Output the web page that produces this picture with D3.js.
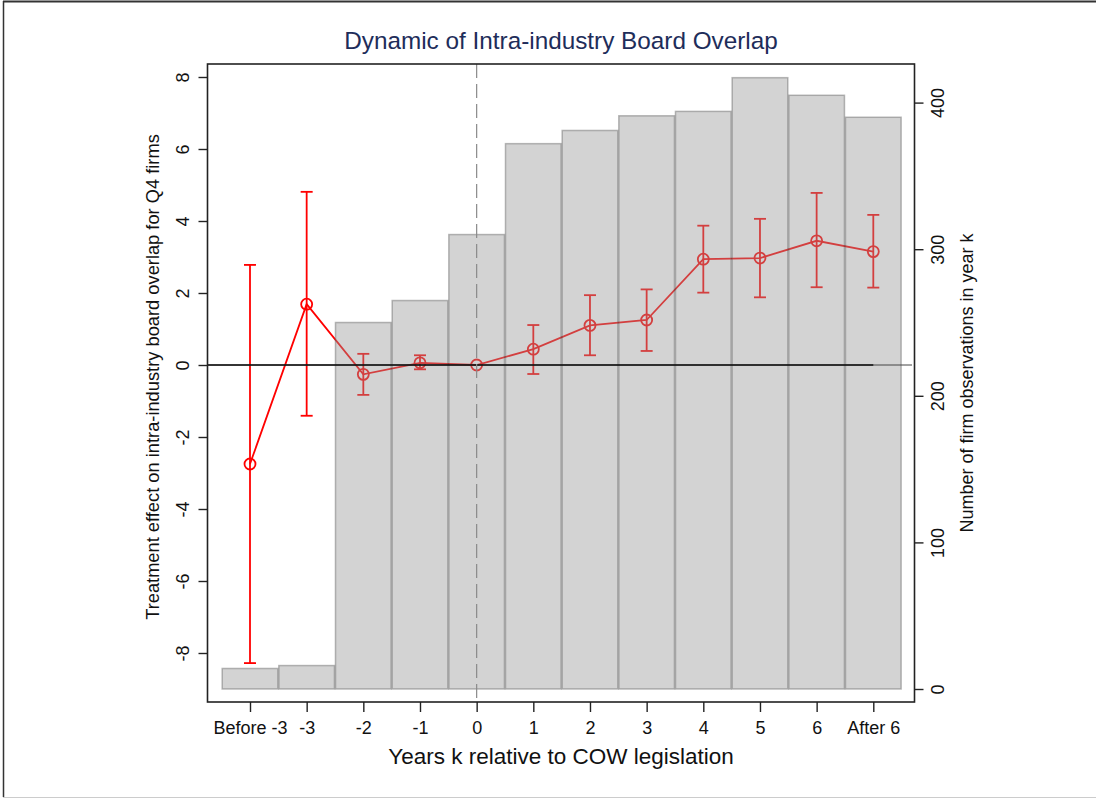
<!DOCTYPE html>
<html>
<head>
<meta charset="utf-8">
<script src="https://cdn.jsdelivr.net/npm/d3@7"></script>
<style>
body{margin:0;background:#fff;}
text{font-family:"Liberation Sans", Arial, sans-serif;}
</style>
</head>
<body>
<svg id="chart" width="1096" height="799"></svg>
<script>
var years = ["Before -3","-3","-2","-1","0","1","2","3","4","5","6","After 6"]
var firmCounts = [14, 16, 250, 265, 310, 372, 381, 391, 394, 417, 405, 390]
var effect = [-2.75, 1.69, -0.26, 0.06, 0, 0.44, 1.10, 1.25, 2.94, 2.97, 3.45, 3.15]
var ciLow = [-8.28, -1.41, -0.83, -0.12, null, -0.25, 0.27, 0.39, 2.01, 1.88, 2.16, 2.15]
var ciHigh = [2.78, 4.81, 0.31, 0.27, null, 1.11, 1.94, 2.10, 3.87, 4.06, 4.78, 4.17]
var leftTicks = [-8,-6,-4,-2,0,2,4,6,8]
var rightTicks = [0,100,200,300,400]

var plot = {left:207.5, right:914.5, top:64, bottom:702}

var svg = d3.select("#chart")

// page frame
svg.append("line").attr("x1",3).attr("x2",1096).attr("y1",1.5).attr("y2",1.5).style("stroke","#333").style("stroke-width",2)
svg.append("line").attr("x1",3.5).attr("x2",3.5).attr("y1",1).attr("y2",797).style("stroke","#333").style("stroke-width",1.5)
svg.append("line").attr("x1",3).attr("x2",1096).attr("y1",797.5).attr("y2",797.5).style("stroke","#ccc").style("stroke-width",1)

var x = d3.scalePoint()
    .domain(years)
    .range([250, 873.3])
var step = x.step()

var y = d3.scaleLinear()
    .domain([-8, 8])
    .range([653, 77])

var y2 = d3.scaleLinear()
    .domain([0, 400])
    .range([689, 102.6])

var red = "#ff0000"

// error bars (drawn under the translucent bars)
var ci = years.map(function(d,i){return {k:d, lo:ciLow[i], hi:ciHigh[i]}}).filter(function(d){return d.lo != null})
var cap = 6
var g = svg.append("g").style("stroke",red).style("stroke-width",1.8).style("fill","none")
g.selectAll("line.ci").data(ci).enter().append("line")
    .attr("class","ci")
    .attr("x1",function(d){return x(d.k)}).attr("x2",function(d){return x(d.k)})
    .attr("y1",function(d){return y(d.lo)}).attr("y2",function(d){return y(d.hi)})
g.selectAll("line.capHi").data(ci).enter().append("line")
    .attr("x1",function(d){return x(d.k)-cap}).attr("x2",function(d){return x(d.k)+cap})
    .attr("y1",function(d){return y(d.hi)}).attr("y2",function(d){return y(d.hi)})
g.selectAll("line.capLo").data(ci).enter().append("line")
    .attr("x1",function(d){return x(d.k)-cap}).attr("x2",function(d){return x(d.k)+cap})
    .attr("y1",function(d){return y(d.lo)}).attr("y2",function(d){return y(d.lo)})

var line = d3.line()
    .x(function(d,i){return x(years[i])})
    .y(function(d){return y(d)})
g.append("path").attr("d", line(effect))

g.selectAll("circle").data(effect).enter().append("circle")
    .attr("cx",function(d,i){return x(years[i])})
    .attr("cy",function(d){return y(d)})
    .attr("r",5.5)

// observation counts, translucent grey on top
svg.append("g").selectAll("rect").data(firmCounts).enter().append("rect")
    .attr("x",function(d,i){return x(years[i]) - step/2 + 0.5})
    .attr("width", step - 1)
    .attr("y",function(d){return y2(d)})
    .attr("height",function(d){return y2(0) - y2(d)})
    .style("fill","#979797").style("fill-opacity",0.42)
    .style("stroke","#5a5a5a").style("stroke-opacity",0.42).style("stroke-width",1.5)

// zero reference lines
svg.append("line").attr("x1",plot.left).attr("x2",912).attr("y1",y(0)).attr("y2",y(0))
    .style("stroke","#444").style("stroke-width",1)
svg.append("line").attr("x1",plot.left).attr("x2",x("After 6")).attr("y1",y(0)).attr("y2",y(0))
    .style("stroke","#111").style("stroke-width",1.6)

svg.append("line").attr("x1",x("0")).attr("x2",x("0")).attr("y1",plot.top).attr("y2",plot.bottom)
    .style("stroke","#8a8a8a").style("stroke-width",1.2).style("stroke-dasharray","14,6")

// plot box
svg.append("rect").attr("x",plot.left).attr("y",plot.top)
    .attr("width",plot.right-plot.left).attr("height",plot.bottom-plot.top)
    .style("fill","none").style("stroke","#222").style("stroke-width",1.6)

// axes
var yAxis = d3.axisLeft(y).tickValues(leftTicks).tickSize(9).tickFormat(function(d){return String(d)})
var gy = svg.append("g").attr("transform","translate("+plot.left+",0)").call(yAxis)
gy.select(".domain").remove()
gy.selectAll(".tick line").style("stroke","#222").style("stroke-width",1.4)
gy.selectAll(".tick text")
    .attr("x",0).attr("dy",null)
    .attr("transform","translate(-19,0) rotate(-90)")
    .style("text-anchor","middle").style("font-size","18px").style("fill","#111")

var yAxis2 = d3.axisRight(y2).tickValues(rightTicks).tickSize(9)
var gy2 = svg.append("g").attr("transform","translate("+plot.right+",0)").call(yAxis2)
gy2.select(".domain").remove()
gy2.selectAll(".tick line").style("stroke","#222").style("stroke-width",1.4)
gy2.selectAll(".tick text")
    .attr("x",0).attr("dy",null)
    .attr("transform","translate(29,0) rotate(-90)")
    .style("text-anchor","middle").style("font-size","18px").style("fill","#111")

var xAxis = d3.axisBottom(x).tickSize(10)
var gx = svg.append("g").attr("transform","translate(0,"+plot.bottom+")").call(xAxis)
gx.select(".domain").remove()
gx.selectAll(".tick line").style("stroke","#222").style("stroke-width",1.4)
gx.selectAll(".tick text")
    .attr("y",31.5).attr("dy",null)
    .style("font-size","18px").style("fill","#111")

// titles
svg.append("text")
    .attr("x",561).attr("y",48.5)
    .style("text-anchor","middle").style("font-size","24.3px").style("fill","#1e2d5a")
    .text("Dynamic of Intra-industry Board Overlap")

svg.append("text")
    .attr("x",561).attr("y",764)
    .style("text-anchor","middle").style("font-size","22.5px").style("fill","#111")
    .text("Years k relative to COW legislation")

svg.append("text")
    .attr("transform","translate(158.5,377) rotate(-90)")
    .style("text-anchor","middle").style("font-size","18.3px").style("fill","#111")
    .text("Treatment effect on intra-industry board overlap for Q4 firms")

svg.append("text")
    .attr("transform","translate(972.5,383) rotate(-90)")
    .style("text-anchor","middle").style("font-size","18px").style("fill","#111")
    .text("Number of firm observations in year k")
</script>
</body>
</html>
